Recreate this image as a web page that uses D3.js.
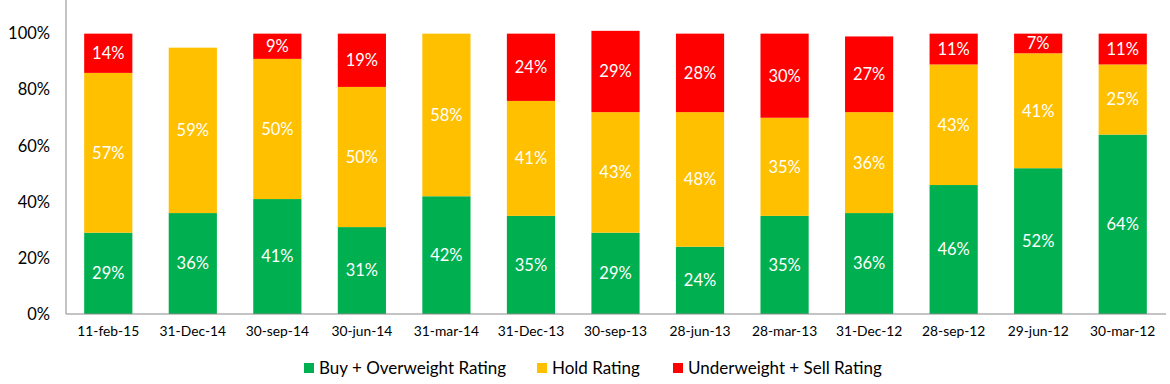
<!DOCTYPE html>
<html>
<head>
<meta charset="utf-8">
<script src="https://cdn.jsdelivr.net/npm/d3@7"></script>
<style>
  html, body { margin: 0; padding: 0; background: #fff; }
  svg { display: block; font-family: Lato, "Open Sans", sans-serif; }
</style>
</head>
<body>
<svg id="chart" width="1170" height="384"></svg>
<script>
const categories = ["11-feb-15","31-Dec-14","30-sep-14","30-jun-14","31-mar-14","31-Dec-13","30-sep-13","28-jun-13","28-mar-13","31-Dec-12","28-sep-12","29-jun-12","30-mar-12"];
const buyValues  = [29, 36, 41, 31, 42, 35, 29, 24, 35, 36, 46, 52, 64];
const holdValues = [57, 59, 50, 50, 58, 41, 43, 48, 35, 36, 43, 41, 25];
const sellValues = [14, 0, 9, 19, 0, 24, 29, 28, 30, 27, 11, 7, 11];
const seriesNames = ["Buy + Overweight Rating", "Hold Rating", "Underweight + Sell Rating"];
const yTicks = [0, 20, 40, 60, 80, 100];

const colors = ["#00B050", "#FFC000", "#FF0000"];
const svg = d3.select("#chart");
const left = 66, right = 1165, bottom = 314;

const x = d3.scaleBand().domain(categories).range([left, right]).paddingInner(0.43).paddingOuter(0.215);
const y = d3.scaleLinear().domain([0, 112]).range([bottom, 0]);

const rows = categories.map((c, i) => ({cat: c, buy: buyValues[i], hold: holdValues[i], sell: sellValues[i]}));
const keys = ["buy", "hold", "sell"];
const stack = d3.stack().keys(keys)(rows);

const g = svg.append("g");
stack.forEach((layer, li) => {
  const lg = g.append("g").attr("fill", colors[li]);
  lg.selectAll("rect").data(layer.filter(d => d[1] - d[0] > 0)).join("rect")
    .attr("x", d => x(d.data.cat))
    .attr("width", x.bandwidth())
    .attr("y", d => y(d[1]))
    .attr("height", d => y(d[0]) - y(d[1]));
});

// data labels
stack.forEach((layer, li) => {
  g.append("g").selectAll("text").data(layer.filter(d => d[1] - d[0] > 0 && !(li === 1 && false))).join("text")
    .attr("x", d => x(d.data.cat) + x.bandwidth() / 2)
    .attr("y", d => y((d[0] + d[1]) / 2))
    .attr("dy", "0.36em")
    .attr("text-anchor", "middle")
    .attr("fill", "#fff")
    .attr("font-size", 16.5)
    .text(d => (d[1] - d[0]) + "%");
});

// axes
const yAxis = d3.axisLeft(y).tickValues(yTicks).tickSize(0).tickPadding(16).tickFormat(d => d + "%");
const ya = svg.append("g").attr("transform", `translate(${left},0)`).call(yAxis);
ya.select(".domain").attr("stroke", "#898989").attr("d", `M0,0V${bottom}`);
ya.selectAll("text").attr("font-size", 16.5).attr("fill", "#000").attr("font-family", "Lato, sans-serif");

const xAxis = d3.axisBottom(x).tickSize(0).tickPadding(12);
const xa = svg.append("g").attr("transform", `translate(0,${bottom})`).call(xAxis);
xa.select(".domain").attr("stroke", "#898989").attr("d", `M${left},0H${right + 1}`);
xa.selectAll("text").attr("font-size", 13.8).attr("fill", "#000").attr("font-family", "Lato, sans-serif");

// legend
const legendX = [304, 537, 673];
const lg = svg.append("g");
seriesNames.forEach((name, i) => {
  lg.append("rect").attr("x", legendX[i]).attr("y", 363).attr("width", 10).attr("height", 10).attr("fill", colors[i]);
  lg.append("text").attr("x", legendX[i] + 15).attr("y", 374).attr("font-size", 17).attr("fill", "#000").text(name);
});
</script>
</body>
</html>
